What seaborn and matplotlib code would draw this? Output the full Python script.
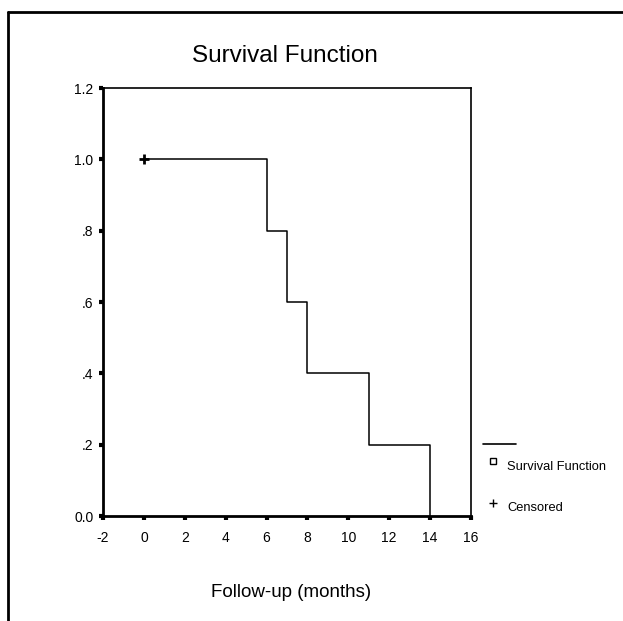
import matplotlib
matplotlib.use("Agg")
import matplotlib.pyplot as plt
from matplotlib.lines import Line2D
import seaborn as sns
import pandas as pd

time = [0, 6, 7, 8, 11, 14]
survival = [1.0, 0.8, 0.6, 0.4, 0.2, 0.0]
censor_time = [0]
censor_surv = [1.0]
xticks = [-2, 0, 2, 4, 6, 8, 10, 12, 14, 16]
yticks = [0.0, 0.2, 0.4, 0.6, 0.8, 1.0, 1.2]
ytick_labels = ["0.0", ".2", ".4", ".6", ".8", "1.0", "1.2"]

sns.set_theme(style="white")
plt.rcParams['font.family'] = ['Liberation Sans', 'DejaVu Sans']
plt.rcParams['text.color'] = 'black'
plt.rcParams['xtick.color'] = 'black'
plt.rcParams['ytick.color'] = 'black'

W, H = 623, 621
fig = plt.figure(figsize=(W / 100, H / 100), dpi=100)
ax = fig.add_axes([103 / W, 1 - 516 / H, (471 - 103) / W, (516 - 88) / H])

df = pd.DataFrame({"time": time, "survival": survival})
sns.lineplot(data=df, x="time", y="survival", drawstyle="steps-post", color="black",
             linewidth=1.1, ax=ax)
cdf = pd.DataFrame({"t": censor_time, "s": censor_surv})
sns.scatterplot(data=cdf, x="t", y="s", marker="+", color="black", s=60, linewidth=2, ax=ax)

ax.set_xlim(-2, 16)
ax.set_ylim(0, 1.2)
ax.set_xticks(xticks)
ax.set_xticklabels([str(v) for v in xticks], fontsize=10)
ax.set_yticks(yticks)
ax.set_yticklabels(ytick_labels, fontsize=10)
ax.tick_params(axis="both", which="major", direction="out", length=3, width=3,
               color="black", bottom=True, left=True, labelcolor="black")
ax.tick_params(axis="x", pad=8)
ax.tick_params(axis="y", pad=4)
for s in ax.spines.values():
    s.set_color("black")
    s.set_linewidth(1.2)
ax.spines["left"].set_linewidth(2)
ax.spines["bottom"].set_linewidth(2)
ax.set_xlabel("")
ax.set_ylabel("")

fig.text(285 / W, 1 - 62 / H, "Survival Function", fontsize=17.5, ha="center", va="baseline")
fig.text(291 / W, 1 - 597 / H, "Follow-up (months)", fontsize=13.5, ha="center", va="baseline")

# legend
fig.add_artist(Line2D([483 / W, 516 / W], [1 - 444 / H, 1 - 444 / H], color="black", linewidth=1.2))
fig.add_artist(Line2D([493 / W], [1 - 461 / H], marker="s", markersize=4, markerfacecolor="white",
                      markeredgecolor="black", markeredgewidth=1, linestyle="none"))
fig.text(507 / W, 1 - 470 / H, "Survival Function", fontsize=9.3, va="baseline")
fig.add_artist(Line2D([493 / W], [1 - 503 / H], marker="+", markersize=6,
                      markeredgecolor="black", markeredgewidth=1, linestyle="none"))
fig.text(507 / W, 1 - 511 / H, "Censored", fontsize=9.3, va="baseline")

# figure frame
fig.add_artist(Line2D([8 / W, 8 / W], [0, 1 - 12 / H], color="black", linewidth=2))
fig.add_artist(Line2D([8 / W, 1], [1 - 12 / H, 1 - 12 / H], color="black", linewidth=2))

fig.savefig("out.png", dpi=100)
